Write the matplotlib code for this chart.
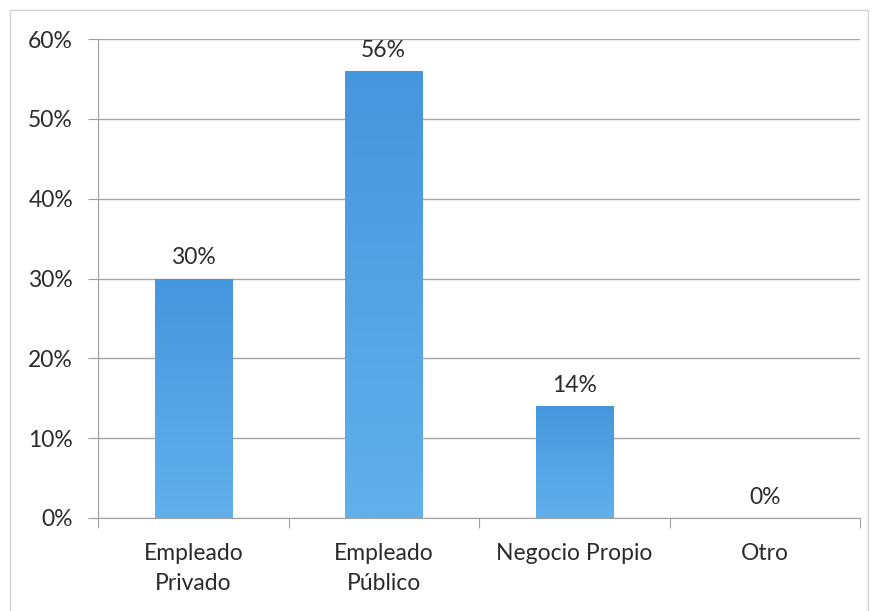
import matplotlib
matplotlib.use("Agg")
import matplotlib.pyplot as plt
import numpy as np
from matplotlib.colors import LinearSegmentedColormap
from matplotlib.patches import Rectangle

categories = ["Empleado\nPrivado", "Empleado\nPúblico", "Negocio Propio", "Otro"]
values = [0.30, 0.56, 0.14, 0.0]
value_labels = ["30%", "56%", "14%", "0%"]
y_ticks = [0, 0.1, 0.2, 0.3, 0.4, 0.5, 0.6]
y_tick_labels = ["0%", "10%", "20%", "30%", "40%", "50%", "60%"]

plt.rcParams["font.family"] = ["Lato", "DejaVu Sans"]
TEXT = "#2b2b2b"
FS = 16.5

fig = plt.figure(figsize=(8.76, 6.11), dpi=100)
ax = fig.add_axes([98 / 876, 1 - 518 / 611, (860 - 98) / 876, (518 - 39) / 611])

# outer chart frame
fig.patches.append(Rectangle((10 / 876, -0.01), 858 / 876, 1 - 10 / 611 + 0.01,
                             transform=fig.transFigure, fill=False,
                             edgecolor="#d4d4d4", linewidth=1.0))

x = np.arange(len(categories))
width = 0.405
bars = ax.bar(x, values, width=width, color="#4a9be0", zorder=2)

cmap = LinearSegmentedColormap.from_list("barfill", ["#62b0ec", "#4596dd"])
grad = np.linspace(0, 1, 256).reshape(-1, 1)
for b in bars:
    h = b.get_height()
    if h <= 0:
        continue
    x0 = b.get_x()
    im = ax.imshow(grad, extent=(x0, x0 + b.get_width(), 0, h), origin="lower",
                   cmap=cmap, aspect="auto", zorder=3)
    im.set_clip_path(b)

for xi, v, lab in zip(x, values, value_labels):
    ax.text(xi, v + 0.013, lab, ha="center", va="bottom", fontsize=FS, color=TEXT)

ax.set_xlim(-0.5, len(categories) - 0.5)
ax.set_ylim(0, 0.6)
ax.set_yticks(y_ticks)
ax.set_yticklabels(y_tick_labels, fontsize=FS, color=TEXT)
ax.set_xticks(np.arange(len(categories) + 1) - 0.5, minor=False)
ax.set_xticklabels([""] * (len(categories) + 1))
ax.set_xticks(x, minor=True)
ax.set_xticklabels(categories, minor=True, fontsize=FS, color=TEXT, linespacing=1.5)
ax.tick_params(axis="x", which="major", length=7, color="#a0a0a0", direction="out")
ax.tick_params(axis="x", which="minor", length=0, pad=18)
ax.tick_params(axis="y", length=7, color="#a0a0a0", pad=11)

ax.grid(axis="y", color="#a6a6a6", linewidth=1.0, zorder=0)
ax.set_axisbelow(True)
for s in ["top", "right"]:
    ax.spines[s].set_visible(False)
ax.spines["left"].set_color("#a0a0a0")
ax.spines["bottom"].set_color("#a0a0a0")

fig.savefig("out.png", dpi=100, facecolor="white")
